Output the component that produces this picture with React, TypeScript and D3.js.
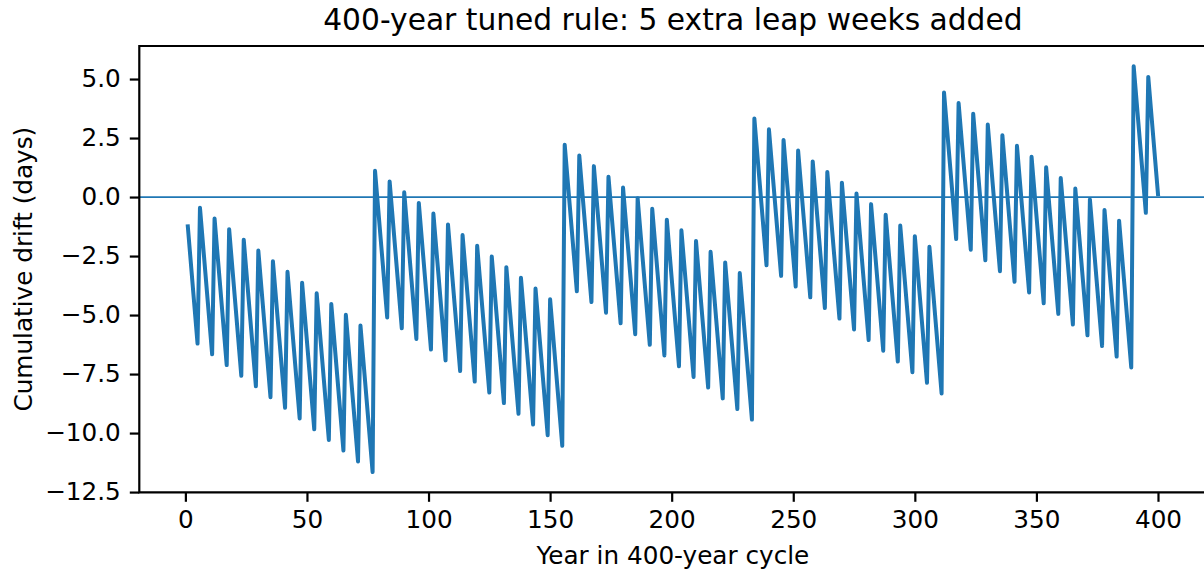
import React, { useEffect, useRef } from 'react';
import * as d3 from 'd3';

// turning points of the drift curve: [year, cumulative drift in days]
const driftPoints: [number, number][] = [
  [1, -1.24],
  [5, -6.21], [6, -0.45], [11, -6.66], [12, -0.91], [17, -7.12], [18, -1.36],
  [23, -7.57], [24, -1.81], [29, -8.02], [30, -2.27], [35, -8.48], [36, -2.72],
  [41, -8.93], [42, -3.17], [47, -9.38], [48, -3.63], [53, -9.84], [54, -4.08],
  [59, -10.29], [60, -4.53], [65, -10.74], [66, -4.99], [71, -11.2], [72, -5.44],
  [77, -11.65], [78, 1.11], [83, -5.1], [84, 0.66], [89, -5.56], [90, 0.2],
  [95, -6.01], [96, -0.25], [101, -6.46], [102, -0.7], [107, -6.92], [108, -1.16],
  [113, -7.37], [114, -1.61], [119, -7.82], [120, -2.06], [125, -8.28], [126, -2.52],
  [131, -8.73], [132, -2.97], [137, -9.18], [138, -3.42], [143, -9.64], [144, -3.88],
  [149, -10.09], [150, -4.33], [155, -10.54], [156, 2.22], [161, -3.99], [162, 1.76],
  [167, -4.45], [168, 1.31], [173, -4.9], [174, 0.86], [179, -5.35], [180, 0.4],
  [185, -5.81], [186, -0.05], [191, -6.26], [192, -0.5], [197, -6.71], [198, -0.96],
  [203, -7.17], [204, -1.41], [209, -7.62], [210, -1.86], [215, -8.07], [216, -2.32],
  [221, -8.53], [222, -2.77], [227, -8.98], [228, -3.22], [233, -9.43], [234, 3.33],
  [239, -2.89], [240, 2.87], [245, -3.34], [246, 2.42], [251, -3.79], [252, 1.97],
  [257, -4.25], [258, 1.51], [263, -4.7], [264, 1.06], [269, -5.15], [270, 0.61],
  [275, -5.61], [276, 0.15], [281, -6.06], [282, -0.3], [287, -6.51], [288, -0.75],
  [293, -6.97], [294, -1.21], [299, -7.42], [300, -1.66], [305, -7.87], [306, -2.11],
  [311, -8.32], [312, 4.43], [317, -1.78], [318, 3.98], [323, -2.23], [324, 3.53],
  [329, -2.68], [330, 3.07], [335, -3.14], [336, 2.62], [341, -3.59], [342, 2.17],
  [347, -4.04], [348, 1.71], [353, -4.5], [354, 1.26], [359, -4.95], [360, 0.81],
  [365, -5.4], [366, 0.36], [371, -5.86], [372, -0.1], [377, -6.31], [378, -0.55],
  [383, -6.76], [384, -1.0], [389, -7.22], [390, 5.54], [395, -0.67], [396, 5.09],
  [400, 0.12]
];

const xTicks = [0, 50, 100, 150, 200, 250, 300, 350, 400];
const yTicks = [-12.5, -10, -7.5, -5, -2.5, 0, 2.5, 5];

const title = '400-year tuned rule: 5 extra leap weeks added';
const xLabel = 'Year in 400-year cycle';
const yLabel = 'Cumulative drift (days)';

const W = 1204;
const H = 573;
const left = 139.3;
const right = 1206.5;
const top = 46;
const bottom = 492.3;
const blue = '#1f77b4';
const font = '"DejaVu Sans", sans-serif';

function Chart() {
  const ref = useRef<SVGSVGElement>(null);

  useEffect(() => {
    const svg = d3.select(ref.current);
    svg.selectAll('*').remove();

    const xExt = d3.extent(driftPoints, d => d[0]) as [number, number];
    const yExt = d3.extent(driftPoints, d => d[1]) as [number, number];
    const xPad = (xExt[1] - xExt[0]) * 0.05;
    const yPad = (yExt[1] - yExt[0]) * 0.05;

    const x = d3.scaleLinear().domain([xExt[0] - xPad, xExt[1] + xPad]).range([left, right]);
    const y = d3.scaleLinear().domain([yExt[0] - yPad, yExt[1] + yPad]).range([bottom, top]);

    svg.append('rect').attr('width', W).attr('height', H).attr('fill', '#fff');

    const plot = svg.append('g');
    plot.append('defs').append('clipPath').attr('id', 'clip')
      .append('rect').attr('x', left).attr('y', top)
      .attr('width', right - left).attr('height', bottom - top);

    const line = d3.line<[number, number]>().x(d => x(d[0])).y(d => y(d[1]));

    plot.append('path')
      .datum(driftPoints)
      .attr('d', line)
      .attr('fill', 'none')
      .attr('stroke', blue)
      .attr('stroke-width', 4)
      .attr('stroke-linejoin', 'round')
      .attr('stroke-linecap', 'square')
      .attr('clip-path', 'url(#clip)');

    // zero reference line
    plot.append('line')
      .attr('x1', left).attr('x2', right)
      .attr('y1', y(0)).attr('y2', y(0))
      .attr('stroke', blue)
      .attr('stroke-width', 1.8);

    const fmt = (v: number) => v.toFixed(1).replace('-', '\u2212');

    const gx = svg.append('g')
      .attr('transform', `translate(0,${bottom})`)
      .call(d3.axisBottom(x).tickValues(xTicks).tickSize(9.5).tickPadding(9).tickSizeOuter(0).tickFormat(d3.format('d')));
    const gy = svg.append('g')
      .attr('transform', `translate(${left},0)`)
      .call(d3.axisLeft(y).tickValues(yTicks).tickSize(9.5).tickPadding(9).tickSizeOuter(0).tickFormat(d => fmt(+d)));

    [gx, gy].forEach(g => {
      g.select('.domain').remove();
      g.selectAll('line').attr('stroke', '#000').attr('stroke-width', 2.2);
      g.selectAll('text')
        .attr('fill', '#000')
        .style('font-family', font)
        .style('font-size', '24.7px');
    });

    // spines (right one falls outside the picture)
    svg.append('path')
      .attr('d', `M${left},${bottom}V${top}H${right}V${bottom}Z`)
      .attr('fill', 'none')
      .attr('stroke', '#000')
      .attr('stroke-width', 2.2)
      .attr('stroke-linecap', 'square');

    svg.append('text')
      .attr('x', (left + right) / 2)
      .attr('y', 30)
      .attr('text-anchor', 'middle')
      .style('font-family', font)
      .style('font-size', '29.7px')
      .text(title);

    svg.append('text')
      .attr('x', (left + right) / 2)
      .attr('y', 564)
      .attr('text-anchor', 'middle')
      .style('font-family', font)
      .style('font-size', '24.7px')
      .text(xLabel);

    svg.append('text')
      .attr('transform', `translate(31.5,${(top + bottom) / 2}) rotate(-90)`)
      .attr('text-anchor', 'middle')
      .style('font-family', font)
      .style('font-size', '24.7px')
      .text(yLabel);
  }, []);

  return (
    <svg ref={ref} width={W} height={H}
      style={{ position: 'absolute', left: 0, top: 0, display: 'block' }} />
  );
}

export default function App() {
  return <Chart />;
}
